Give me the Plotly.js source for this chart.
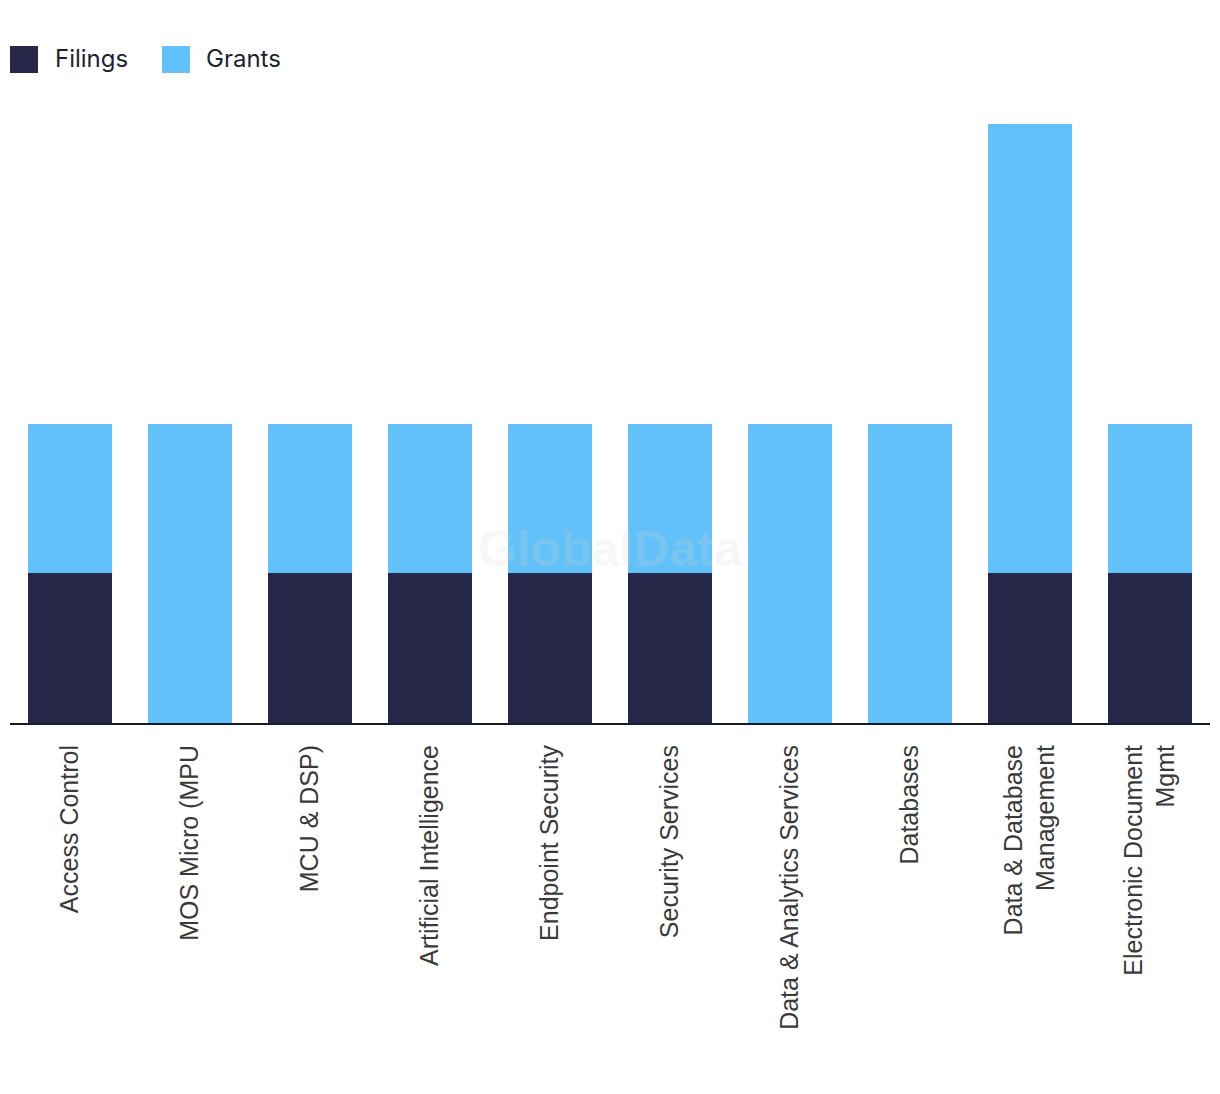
<!DOCTYPE html>
<html>
<head>
<meta charset="utf-8">
<script src="https://cdn.plot.ly/plotly-3.0.1.min.js"></script>
<style>html,body{margin:0;padding:0;background:#fff;}#chart{width:1220px;height:1094px;}</style>
</head>
<body>
<div id="chart"></div>
<script>
const categories = ["Access Control", "MOS Micro (MPU", "MCU & DSP)", "Artificial Intelligence", "Endpoint Security", "Security Services", "Data & Analytics Services", "Databases", "Data & Database<br>Management", "Electronic Document<br>Mgmt"];
const filings = [1, 0, 1, 1, 1, 1, 0, 0, 1, 1];
const grants = [1, 2, 1, 1, 1, 1, 2, 2, 3, 1];
const seriesNames = ["Filings", "Grants"];
const colors = ["#27274a", "#62c1f9"];

const traces = [
  {type: "bar", name: seriesNames[0], x: categories, y: filings, marker: {color: colors[0]}, hoverinfo: "none"},
  {type: "bar", name: seriesNames[1], x: categories, y: grants, marker: {color: colors[1]}, hoverinfo: "none"}
];

const legendFont = {family: "Inter, 'Liberation Sans', sans-serif", size: 24, color: "#1f1f33"};
const layout = {
  width: 1220, height: 1094,
  margin: {l: 10, r: 10, t: 124, b: 371},
  barmode: "stack",
  bargap: 0.3,
  showlegend: false,
  paper_bgcolor: "#fff", plot_bgcolor: "#fff",
  xaxis: {
    tickangle: -90,
    showline: true, linecolor: "#1a1a2e", linewidth: 2,
    ticks: "", ticklabelstandoff: 10,
    tickfont: {family: "'Liberation Sans', Arial, sans-serif", size: 25, color: "#3a3a3a"},
    showgrid: false, zeroline: false, fixedrange: true
  },
  yaxis: {range: [0, 4], visible: false, showgrid: false, zeroline: false, fixedrange: true},
  shapes: [
    {type: "rect", xref: "paper", yref: "paper", xsizemode: "pixel", ysizemode: "pixel", xanchor: 0, yanchor: 1, x0: 0, x1: 28, y0: 51, y1: 78, fillcolor: colors[0], line: {width: 0}},
    {type: "rect", xref: "paper", yref: "paper", xsizemode: "pixel", ysizemode: "pixel", xanchor: 0, yanchor: 1, x0: 152, x1: 180, y0: 51, y1: 78, fillcolor: colors[1], line: {width: 0}}
  ],
  annotations: [
    {xref: "paper", yref: "paper", x: 0.5, y: 0.24, text: "<b>GlobalData</b>", showarrow: false, font: {family: "'Liberation Sans', Arial, sans-serif", size: 50, color: "rgba(215,215,215,0.2)"}},
    {xref: "paper", yref: "paper", x: 43/1200, y: 1, yshift: 66, xanchor: "left", yanchor: "middle", text: seriesNames[0], showarrow: false, font: legendFont},
    {xref: "paper", yref: "paper", x: 194/1200, y: 1, yshift: 66, xanchor: "left", yanchor: "middle", text: seriesNames[1], showarrow: false, font: legendFont}
  ]
};
Plotly.newPlot("chart", traces, layout, {displayModeBar: false, staticPlot: true});
</script>
</body>
</html>
